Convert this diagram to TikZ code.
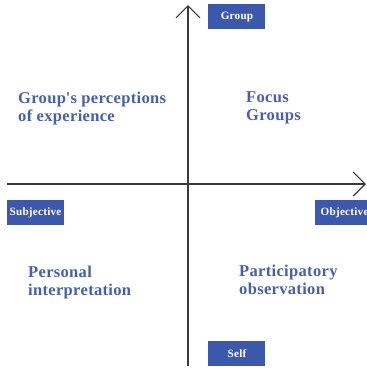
\documentclass[tikz,border=0pt]{standalone}
\usepackage{fontspec}
\setmainfont{Liberation Serif}
\usetikzlibrary{arrows.meta}
\definecolor{tagblue}{HTML}{3C58AC}
\definecolor{labelblue}{HTML}{4460B0}
\definecolor{axisgray}{HTML}{3A3A3A}
\begin{document}
\begin{tikzpicture}[x=1pt,y=-1pt,
  axis/.style={draw=axisgray,line width=1.2pt,-{Straight Barb[length=12pt,width=24pt,line width=1.2pt]}},
  tag/.style={fill=tagblue,text=white,inner sep=0pt,minimum width=57pt,minimum height=25pt,
    font=\bfseries\addfontfeature{LetterSpace=2}\fontsize{11.2}{13}\selectfont},
  quad/.style={text=labelblue,align=left,inner sep=0pt,anchor=north west,
    font=\bfseries\addfontfeature{LetterSpace=2}\fontsize{16.5}{18}\selectfont}]
\useasboundingbox (0,0) rectangle (367,368);
\fill[white] (0,0) rectangle (367,368);
% axes
\coordinate (ybot) at (188,366);
\coordinate (ytop) at (188,5);
\coordinate (xleft) at (7,184);
\coordinate (xright) at (366,184);
\draw[axis] (ybot) -- (ytop);
\draw[axis] (xleft) -- (xright);
% pole labels
\node[tag] (group) at (237,16.5) {Group};
\node[tag] (self) at (237,353.5) {Self};
\node[tag] (subj) at (35.5,212.5) {Subjective};
\node[tag,minimum width=60pt,anchor=west,inner xsep=5.5pt,align=left,text width=49pt] (obj) at (315,212.5) {Objective};
% quadrant labels
\node[quad] (q1) at (18,92) {Group\textquotesingle s perceptions\\of experience};
\node[quad] (q2) at (246,91.5) {Focus\\Groups};
\node[quad] (q3) at (28,266) {Personal\\interpretation};
\node[quad] (q4) at (239,264.5) {Participatory\\observation};
\end{tikzpicture}
\end{document}
